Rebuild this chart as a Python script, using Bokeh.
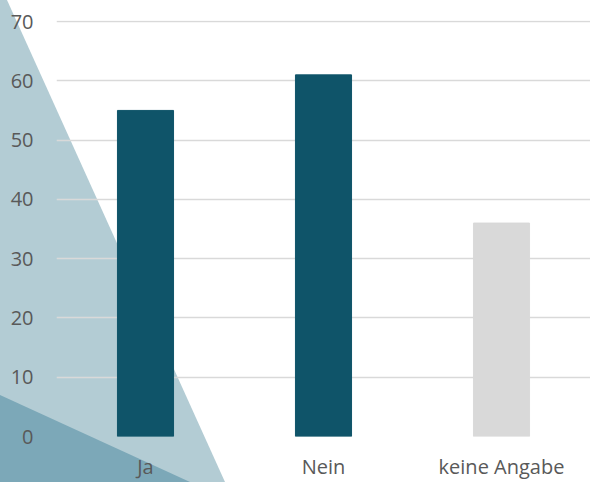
from urllib.parse import quote
from bokeh.plotting import figure
from bokeh.models import FactorRange, Range1d, FixedTicker, ColumnDataSource
from bokeh.embed import file_html
from bokeh.resources import INLINE

categories = ["Ja", "Nein", "keine Angabe"]
values = [55, 61, 36]
bar_colors = ["#0F5469", "#0F5469", "#D9D9D9"]
y_ticks = [0, 10, 20, 30, 40, 50, 60, 70]

W, H = 590, 482

# decorative background shapes, drawn as the plot element's CSS background
deco_svg = (
    f"<svg xmlns='http://www.w3.org/2000/svg' width='{W}' height='{H}'>"
    "<rect width='100%' height='100%' fill='#FFFFFF'/>"
    "<polygon points='0,0 7,0 225,482 0,482' fill='#B3CCD4'/>"
    "<polygon points='0,395 190,482 0,482' fill='#7CA8B8'/>"
    "</svg>"
)
bg = 'url("data:image/svg+xml;charset=utf-8,' + quote(deco_svg) + '")'

p = figure(width=W, height=H,
           x_range=FactorRange(*categories, range_padding=0),
           y_range=Range1d(0, 70.17),
           output_backend="svg", toolbar_location=None,
           min_border_left=56, min_border_right=0, min_border_top=20, min_border_bottom=0,
           background_fill_color=None, border_fill_color=None,
           outline_line_color=None,
           styles={"background-image": bg, "background-repeat": "no-repeat",
                   "background-size": f"{W}px {H}px"})

src = ColumnDataSource(dict(cat=categories, val=values, color=bar_colors))
p.vbar(x="cat", top="val", width=0.315, color="color", source=src)

for ax in (p.xaxis, p.yaxis):
    ax.axis_line_color = None
    ax.major_tick_line_color = None
    ax.minor_tick_line_color = None
    ax.major_tick_out = 0
    ax.major_tick_in = 0
    ax.major_label_text_font = "Open Sans"
    ax.major_label_text_font_size = "20px"
    ax.major_label_text_color = "#595959"

p.yaxis.ticker = FixedTicker(ticks=y_ticks)
p.yaxis.major_label_standoff = 23
p.xaxis.major_label_standoff = 16

p.xgrid.visible = False
p.ygrid.ticker = FixedTicker(ticks=y_ticks)
p.ygrid.grid_line_color = "#D9D9D9"
p.ygrid.grid_line_width = 1.5

open("out.html", "w").write(file_html(p, INLINE))
